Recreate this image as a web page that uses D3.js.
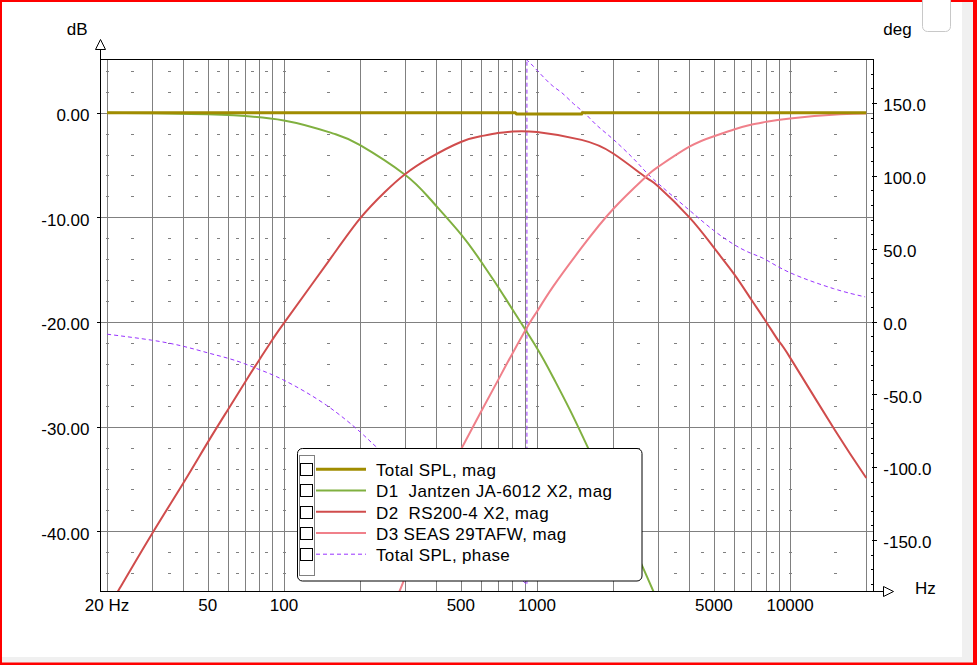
<!DOCTYPE html>
<html>
<head>
<meta charset="utf-8">
<script src="https://cdn.jsdelivr.net/npm/d3@7"></script>
<style>
  html, body { margin: 0; padding: 0; background: #fff; }
  svg { display: block; font-family: "Liberation Sans", Arial, sans-serif; }
</style>
</head>
<body>
<div id="chart"></div>
<script>
/**
 * CONSTANTS
 * */
const width = 977,
  height = 665,
  plot = { left: 100, right: 873.3, top: 59.3, bottom: 591 };

// axis ticks
const xTickValues = [20, 50, 100, 500, 1000, 5000, 10000];
const xTickLabels = ["20 Hz", "50", "100", "500", "1000", "5000", "10000"];
const dbTickValues = [0, -10, -20, -30, -40];
const dbTickLabels = ["0.00", "-10.00", "-20.00", "-30.00", "-40.00"];
const degTickValues = [150, 100, 50, 0, -50, -100, -150];
const degTickLabels = ["150.0", "100.0", "50.0", "0.0", "-50.0", "-100.0", "-150.0"];

// Total SPL, mag (dB)
const freqTotal = [20, 820, 830, 1500, 1510, 20000];
const magTotal = [0, 0, -0.12, -0.12, 0, 0];

// D1 Jantzen JA-6012 X2, mag (dB)
const freqD1 = [20, 50, 100, 157, 200, 300, 378, 500, 600, 700, 800, 1000, 1159, 1349, 1596, 2000, 2593, 3000];
const magD1 = [0, -0.15, -0.74, -2.0, -3.1, -5.9, -8.25, -11.6, -14.2, -16.6, -18.8, -22.5, -25.3, -28.4, -32.1, -37.2, -43.2, -46.7];

// D2 RS200-4 X2, mag (dB)
const freqD2 = [20, 22.5, 30, 40, 50, 60, 70, 80, 90, 100, 150, 200, 250, 300, 378, 500, 600, 700, 800, 1000, 1500, 2000, 2700, 3000, 4000, 5000, 6000, 7000, 8000, 9000, 10000, 15000, 20000];
const magD2 = [-47.5, -45.4, -40.3, -35.4, -31.5, -28.4, -25.8, -23.6, -21.7, -20.1, -14.2, -10.1, -7.6, -5.9, -4.3, -2.8, -2.25, -1.95, -1.8, -1.85, -2.6, -3.9, -6.2, -7.0, -10.0, -12.9, -15.4, -17.8, -19.9, -21.8, -23.4, -30.3, -34.9];

// D3 SEAS 29TAFW, mag (dB)
const freqD3 = [250, 292, 400, 500, 600, 700, 800, 935, 1000, 1159, 1500, 2000, 2700, 3000, 4000, 5000, 6000, 7000, 8000, 10000, 15760, 20000];
const magD3 = [-49.1, -45.2, -37.1, -32.2, -28.6, -25.6, -23.0, -20.1, -19.0, -16.6, -12.9, -9.2, -6.1, -5.2, -3.25, -2.25, -1.6, -1.15, -0.88, -0.55, -0.16, -0.08];

// Total SPL, phase (deg) - wraps from -180 to +180 near 904 Hz
const freqPhaseLow = [20, 30, 40, 50, 60, 70, 80, 100, 147, 200, 230, 300, 400, 500, 600, 700, 800, 904];
const phaseLow = [-8.7, -12.8, -17.0, -21.5, -25.2, -29.0, -33.0, -40.3, -57.4, -75.8, -85.6, -103, -121, -136, -149, -160, -171, -180];
const freqPhaseHigh = [904, 967, 1126, 1252, 1392, 1548, 1722, 2002, 2477, 2882, 4000, 4975, 5970, 6950, 7988, 10030, 14830, 19790];
const phaseHigh = [180, 175.2, 163.3, 157.1, 149.6, 142.8, 134.7, 125, 109.5, 97.7, 76.4, 62.7, 53.1, 47.1, 42.6, 33.4, 22.6, 16.9];

// legend
const legendNames = ["Total SPL, mag", "D1  Jantzen JA-6012 X2, mag", "D2  RS200-4 X2, mag", "D3 SEAS 29TAFW, mag", "Total SPL, phase"];
const legendColors = ["#a08c00", "#80b040", "#d04c4c", "#f0808a", "#9933ff"];
const legendWidths = [3, 2, 2, 2, 1];

/**
 * SCALES
 * */
const x = d3.scaleLog().domain([18.76, 21320]).range([plot.left, plot.right]);
const yDb = d3.scaleLinear().domain([-45.7, 5.1]).range([plot.bottom, plot.top]);
const yDeg = d3.scaleLinear().domain([-185, 180]).range([plot.bottom, plot.top]);

const crisp = v => Math.round(v) + 0.5;

const svg = d3.select("#chart")
  .append("svg")
  .attr("width", width)
  .attr("height", height);

// window frame: red border, grey strips, white area
svg.append("rect").attr("width", width).attr("height", height).attr("fill", "#ff0000");
svg.append("rect").attr("x", 2).attr("y", 2).attr("width", 971).attr("height", 660.5).attr("fill", "#f0f0f0");
svg.append("rect").attr("x", 2).attr("y", 2).attr("width", 960).attr("height", 655).attr("fill", "#ffffff");
svg.append("rect")
  .attr("x", 922.5).attr("y", -6).attr("width", 28).attr("height", 37.5).attr("rx", 5)
  .attr("fill", "#fff").attr("stroke", "#c8c8c8");

/**
 * GRID
 * */
// vertical grid at 1..9 x each decade, 20 Hz .. 20 kHz
const gridFreqs = [];
[10, 100, 1000, 10000].forEach(d => {
  for (let k = 1; k <= 9; k++) {
    const f = k * d;
    if (f >= 20 && f <= 20000) gridFreqs.push(f);
  }
});

const grid = svg.append("g").attr("shape-rendering", "crispEdges");
grid.selectAll("line.vgrid")
  .data(gridFreqs)
  .join("line")
  .attr("class", "vgrid")
  .attr("x1", d => crisp(x(d))).attr("x2", d => crisp(x(d)))
  .attr("y1", plot.top).attr("y2", plot.bottom)
  .attr("stroke", "#808080");

grid.selectAll("line.hgrid")
  .data(dbTickValues)
  .join("line")
  .attr("class", "hgrid")
  .attr("x1", plot.left).attr("x2", plot.right)
  .attr("y1", d => crisp(yDb(d))).attr("y2", d => crisp(yDb(d)))
  .attr("stroke", "#808080");

// small dashes between grid lines
const dashFreqs = [20];
[10, 100, 1000, 10000].forEach(d => {
  if (d > 10) dashFreqs.push(d);
  for (let k = 1.5; k < 9; k++) {
    const f = k * d;
    if (f > 20 && f < 20000) dashFreqs.push(f);
  }
});
const dashDb = d3.range(4, -46, -2).filter(v => v % 10 !== 0);
const dashes = [];
dashFreqs.forEach(f => dashDb.forEach(v => dashes.push([f, v])));

grid.selectAll("line.dash")
  .data(dashes)
  .join("line")
  .attr("class", "dash")
  .attr("x1", d => Math.round(x(d[0])) - 1).attr("x2", d => Math.round(x(d[0])) + 2)
  .attr("y1", d => crisp(yDb(d[1]))).attr("y2", d => crisp(yDb(d[1])))
  .attr("stroke", "#808080");

/**
 * CURVES
 * */
svg.append("clipPath").attr("id", "plot-clip")
  .append("rect")
  .attr("x", plot.left).attr("y", plot.top)
  .attr("width", plot.right - plot.left).attr("height", plot.bottom - plot.top);

const curves = svg.append("g").attr("clip-path", "url(#plot-clip)");

const zip = (fs, vs) => fs.map((f, i) => [f, vs[i]]);

const dbLine = d3.line().x(d => x(d[0])).y(d => yDb(d[1])).curve(d3.curveNatural);
const degLine = d3.line().x(d => x(d[0])).y(d => yDeg(d[1])).curve(d3.curveNatural);

// phase (dashed): two branches and the wrap jump
const phaseStyle = sel => sel
  .attr("fill", "none")
  .attr("stroke", legendColors[4])
  .attr("stroke-width", 1)
  .attr("stroke-dasharray", "4,3");

curves.append("path").attr("d", degLine(zip(freqPhaseLow, phaseLow))).call(phaseStyle);
curves.append("path").attr("d", degLine(zip(freqPhaseHigh, phaseHigh))).call(phaseStyle);
curves.append("path")
  .attr("d", d3.line()([
    [x(freqPhaseLow[freqPhaseLow.length - 1]) + 1, yDeg(phaseLow[phaseLow.length - 1])],
    [x(freqPhaseHigh[0]) + 1, yDeg(phaseHigh[0])]
  ]))
  .call(phaseStyle);

const magSeries = [
  { data: zip(freqD1, magD1), i: 1 },
  { data: zip(freqD2, magD2), i: 2 },
  { data: zip(freqD3, magD3), i: 3 },
];

curves.selectAll("path.mag")
  .data(magSeries)
  .join("path")
  .attr("class", "mag")
  .attr("d", d => dbLine(d.data))
  .attr("fill", "none")
  .attr("stroke", d => legendColors[d.i])
  .attr("stroke-width", d => legendWidths[d.i]);

curves.append("path")
  .attr("d", d3.line().x(d => x(d[0])).y(d => yDb(d[1]))(zip(freqTotal, magTotal)))
  .attr("fill", "none")
  .attr("stroke", legendColors[0])
  .attr("stroke-width", legendWidths[0]);

/**
 * AXES AND FRAME
 * */
const axes = svg.append("g").attr("stroke", "#000").attr("fill", "none").attr("shape-rendering", "crispEdges");
const L = crisp(plot.left), R = crisp(plot.right), T = crisp(plot.top), B = crisp(plot.bottom);

axes.append("line").attr("x1", L).attr("x2", R).attr("y1", T).attr("y2", T);
axes.append("line").attr("x1", R).attr("x2", R).attr("y1", T).attr("y2", B);
axes.append("line").attr("x1", L).attr("x2", L).attr("y1", 49).attr("y2", B);
axes.append("line").attr("x1", L).attr("x2", 883).attr("y1", B).attr("y2", B);

// arrow heads
svg.append("path")
  .attr("d", `M${L},39.5 L${L - 5},49.5 L${L + 5},49.5 Z`)
  .attr("fill", "#fff").attr("stroke", "#000");
svg.append("path")
  .attr("d", `M893.5,${B} L883.5,${B - 5} L883.5,${B + 5} Z`)
  .attr("fill", "#fff").attr("stroke", "#000");

// dB ticks (left)
axes.selectAll("line.dbtick")
  .data(dbTickValues)
  .join("line")
  .attr("class", "dbtick")
  .attr("x1", L - 4).attr("x2", L)
  .attr("y1", d => crisp(yDb(d))).attr("y2", d => crisp(yDb(d)));

// deg ticks (right): minor every 10, major every 50
axes.selectAll("line.degtick")
  .data(d3.range(-180, 181, 10))
  .join("line")
  .attr("class", "degtick")
  .attr("x1", d => d % 50 === 0 ? R - 2 : R - 3)
  .attr("x2", d => d % 50 === 0 ? R + 3 : R)
  .attr("y1", d => crisp(yDeg(d))).attr("y2", d => crisp(yDeg(d)));

/**
 * LABELS
 * */
const labels = svg.append("g").attr("font-size", 17).attr("fill", "#000");

labels.selectAll("text.db")
  .data(dbTickValues)
  .join("text")
  .attr("class", "db")
  .attr("x", 89.5)
  .attr("y", d => yDb(d) + 8.3)
  .attr("text-anchor", "end")
  .text((d, i) => dbTickLabels[i]);

labels.selectAll("text.deg")
  .data(degTickValues)
  .join("text")
  .attr("class", "deg")
  .attr("x", 883.3)
  .attr("y", d => yDeg(d) + 8.3)
  .text((d, i) => degTickLabels[i]);

labels.selectAll("text.hz")
  .data(xTickValues)
  .join("text")
  .attr("class", "hz")
  .attr("x", d => x(d))
  .attr("y", 611)
  .attr("text-anchor", "middle")
  .text((d, i) => xTickLabels[i]);

labels.append("text").attr("x", 87.5).attr("y", 35).attr("text-anchor", "end").text("dB");
labels.append("text").attr("x", 883.3).attr("y", 35).text("deg");
labels.append("text").attr("x", 915).attr("y", 594).text("Hz");

/**
 * LEGEND
 * */
const legend = svg.append("g");
legend.append("rect")
  .attr("x", 297.5).attr("y", 448.5).attr("width", 344.5).attr("height", 132.5).attr("rx", 5)
  .attr("fill", "#fff").attr("stroke", "#000");
legend.append("rect")
  .attr("x", 299.5).attr("y", 455.5).attr("width", 15).attr("height", 120)
  .attr("fill", "none").attr("stroke", "#000").attr("stroke-dasharray", "1,1");

const rowY = i => 469.2 + i * 21.25;

const rows = legend.selectAll("g.row")
  .data(legendNames)
  .join("g")
  .attr("class", "row");

rows.append("rect")
  .attr("x", 300.5).attr("y", (d, i) => Math.round(rowY(i) - 6) + 0.5)
  .attr("width", 12).attr("height", 12)
  .attr("fill", "#fff").attr("stroke", "#000");

rows.append("line")
  .attr("x1", 316).attr("x2", 366)
  .attr("y1", (d, i) => rowY(i)).attr("y2", (d, i) => rowY(i))
  .attr("stroke", (d, i) => legendColors[i])
  .attr("stroke-width", (d, i) => legendWidths[i])
  .attr("stroke-dasharray", (d, i) => i === 4 ? "4,3" : null);

rows.append("text")
  .attr("x", 376)
  .attr("y", (d, i) => rowY(i) + 6.8)
  .attr("font-size", 17)
  .attr("letter-spacing", 0.35)
  .style("white-space", "pre")
  .text(d => d);
</script>
</body>
</html>
